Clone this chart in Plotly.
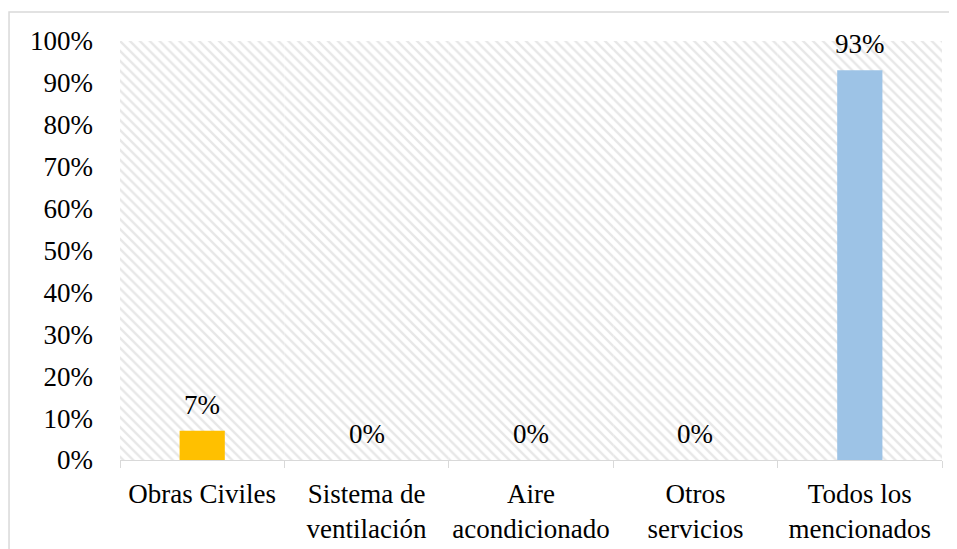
import plotly.graph_objects as go

categories = ["Obras Civiles", "Sistema de<br>ventilación", "Aire<br>acondicionado",
              "Otros<br>servicios", "Todos los<br>mencionados"]
values = [0.07, 0.0, 0.0, 0.0, 0.93]
value_labels = ["7%", "0%", "0%", "0%", "93%"]
bar_colors = ["#FFC000", "#FFC000", "#FFC000", "#FFC000", "#9DC3E6"]
y_ticks = [i / 10 for i in range(11)]
y_tick_labels = [f"{i*10}%" for i in range(11)]

FONT = "Liberation Serif"
FS = 27
y_max = 1.0

fig = go.Figure()
# hatched plot-area background
fig.add_trace(go.Bar(
    x=categories, y=[y_max] * len(categories), width=1,
    marker=dict(color="white", line=dict(width=0),
                pattern=dict(shape="\\", fgcolor="#d0d0d0", bgcolor="white",
                             size=7, solidity=0.35)),
    hoverinfo="skip", showlegend=False,
))
fig.add_trace(go.Bar(
    x=categories, y=values, width=0.275,
    marker=dict(color=bar_colors, line=dict(width=0)),
    hoverinfo="skip", showlegend=False,
))

annotations = [
    dict(x=c, y=v, text=t, xref="x", yref="y", showarrow=False,
         yanchor="middle", yshift=26,
         font=dict(family=FONT, size=FS, color="#000000"))
    for c, v, t in zip(categories, values, value_labels)
]

fig.update_layout(
    width=957, height=549,
    margin=dict(l=112, r=23, t=33, b=97, autoexpand=False),
    paper_bgcolor="white", plot_bgcolor="white",
    barmode="overlay", showlegend=False,
    font=dict(family=FONT, size=FS, color="#000000"),
    annotations=annotations,
    xaxis=dict(showline=True, linecolor="#D9D9D9", linewidth=1.3,
               ticks="outside", tickson="boundaries", ticklen=7,
               tickcolor="#D9D9D9", tickwidth=1.3, showgrid=False,
               tickangle=0, automargin=False, ticklabelstandoff=9,
               tickfont=dict(family=FONT, size=FS, color="#000000")),
    yaxis=dict(range=[0, y_max], tickvals=y_ticks, ticktext=y_tick_labels,
               showgrid=False, zeroline=False, showline=False, ticks="",
               ticklabelstandoff=26, automargin=False,
               tickfont=dict(family=FONT, size=FS, color="#000000")),
    shapes=[dict(type="rect", xref="paper", yref="paper",
                 x0=-0.135, x1=1.2, y0=-0.4, y1=1.069,
                 line=dict(color="#D9D9D9", width=1.5), fillcolor="rgba(0,0,0,0)",
                 layer="below")],
)

fig.write_html("out.html")
